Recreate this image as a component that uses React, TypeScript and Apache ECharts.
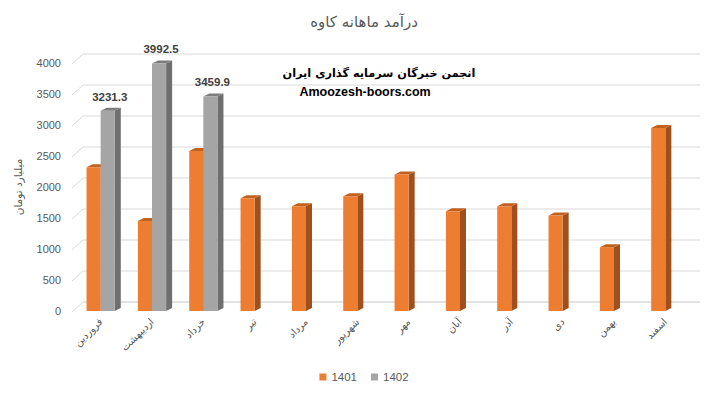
import React, { useEffect, useRef } from "react";
import * as echarts from "echarts";

const months = ["فروردین", "اردیبهشت", "خرداد", "تیر", "مرداد", "شهریور", "مهر", "آبان", "آذر", "دی", "بهمن", "اسفند"];
const income1401 = [2320, 1450, 2580, 1820, 1690, 1850, 2200, 1610, 1690, 1540, 1030, 2950];
const income1402 = [3231.3, 3992.5, 3459.9];
const yTicks = [0, 500, 1000, 1500, 2000, 2500, 3000, 3500, 4000];
const seriesNames = ["1401", "1402"];
const titleText = "درآمد ماهانه کاوه";
const yAxisName = "میلیارد تومان";
const watermark1 = "انجمن خبرگان سرمایه گذاری ایران";
const watermark2 = "Amoozesh-boors.com";

const FA = "'DejaVu Sans', sans-serif";
const LAT = "'Liberation Sans', Arial, sans-serif";

function barRenderer(side: "left" | "right", front: string, sideC: string, topC: string, showLabel: boolean) {
  return (params: any, api: any) => {
    const idx = api.value(0);
    const v = api.value(1);
    const top = api.coord([idx, v]);
    const base = api.coord([idx, 0]);
    const bw = api.size([1, 0])[0];
    const w = bw * 0.275;
    const x0 = side === "left" ? top[0] - w : top[0];
    const x1 = x0 + w;
    const yT = top[1];
    const yB = base[1];
    const dx = 6;
    const dy = 3;
    const children: any[] = [
      {
        type: "polygon",
        shape: { points: [[x1, yT], [x1 + dx, yT - dy], [x1 + dx, yB - dy], [x1, yB]] },
        style: { fill: sideC },
      },
      {
        type: "polygon",
        shape: { points: [[x0, yT], [x0 + dx, yT - dy], [x1 + dx, yT - dy], [x1, yT]] },
        style: { fill: topC },
      },
      {
        type: "rect",
        shape: { x: x0, y: yT, width: w, height: yB - yT },
        style: { fill: front },
      },
    ];
    if (showLabel) {
      children.push({
        type: "text",
        x: x0 + w / 2 + 2,
        y: yT - 14,
        style: {
          text: String(v),
          fill: "#404040",
          font: `bold 11.5px ${LAT}`,
          align: "center",
          verticalAlign: "middle",
        },
      });
    }
    return { type: "group", children };
  };
}

function gridRenderer(params: any, api: any) {
  const v = api.value(1);
  const y = api.coord([0, v])[1];
  const cs = params.coordSys;
  const xf = cs.x - 3;
  const xb = cs.x + 8;
  const xe = cs.x + cs.width + 9;
  const dy = 9;
  const stroke = "#d9d9d9";
  const lw = v === 0 ? 1.6 : 1;
  return {
    type: "group",
    children: [
      { type: "line", shape: { x1: xf, y1: y + 1, x2: xb, y2: y - dy }, style: { stroke, lineWidth: 1 } },
      { type: "line", shape: { x1: xb, y1: y - dy, x2: xe, y2: y - dy }, style: { stroke, lineWidth: lw } },
    ],
  };
}

export default function App() {
  const ref = useRef<HTMLDivElement>(null);
  useEffect(() => {
    if (!ref.current) return;
    const chart = echarts.init(ref.current, null, { renderer: "svg" });
    chart.setOption({
      animation: false,
      backgroundColor: "#ffffff",
      title: {
        text: titleText,
        left: "center",
        top: 9,
        textStyle: { fontFamily: FA, fontSize: 15, fontWeight: "normal", color: "#595959" },
      },
      legend: {
        data: seriesNames,
        bottom: 9,
        left: "center",
        icon: "rect",
        itemWidth: 7,
        itemHeight: 7,
        itemGap: 14,
        textStyle: { fontFamily: LAT, fontSize: 11.5, color: "#595959" },
      },
      grid: { left: 75, right: 37, top: 63, bottom: 86, containLabel: false },
      xAxis: {
        type: "category",
        data: months,
        axisLine: { show: false },
        axisTick: { show: false },
        axisLabel: {
          interval: 0,
          rotate: 45,
          margin: 9,
          fontSize: 10,
          fontFamily: FA,
          color: "#595959",
        },
      },
      yAxis: {
        type: "value",
        min: 0,
        max: 4000,
        interval: 500,
        name: yAxisName,
        nameLocation: "middle",
        nameRotate: 90,
        nameGap: 52,
        nameMoveOverlap: false,
        nameTextStyle: { fontFamily: FA, fontSize: 10.5, color: "#595959" },
        axisLine: { show: false },
        axisTick: { show: false },
        splitLine: { show: false },
        axisLabel: {
          margin: 14,
          fontSize: 11,
          fontFamily: LAT,
          color: "#595959",
          formatter: (v: number) => String(v),
        },
      },
      graphic: [
        {
          type: "text",
          x: 379,
          y: 73,
          style: {
            text: watermark1,
            font: `bold 11.3px ${FA}`,
            fill: "#000000",
            align: "center",
            verticalAlign: "middle",
          },
        },
        {
          type: "text",
          x: 365,
          y: 92,
          style: {
            text: watermark2,
            font: `bold 12.5px ${LAT}`,
            fill: "#000000",
            align: "center",
            verticalAlign: "middle",
          },
        },
      ],
      series: [
        {
          type: "custom",
          name: "grid",
          silent: true,
          z: 1,
          renderItem: gridRenderer,
          data: yTicks.map((v) => [0, v]),
        },
        {
          type: "custom",
          name: seriesNames[0],
          z: 2,
          itemStyle: { color: "#ED7D31" },
          renderItem: barRenderer("left", "#ED7D31", "#A0501C", "#C1611F", false),
          data: income1401.map((v, i) => [i, v]),
        },
        {
          type: "custom",
          name: seriesNames[1],
          z: 3,
          itemStyle: { color: "#A5A5A5" },
          renderItem: barRenderer("right", "#A5A5A5", "#6F6F6F", "#7C7C7C", true),
          data: income1402.map((v, i) => [i, v]),
        },
      ],
    });
    return () => chart.dispose();
  }, []);
  return (
    <div
      ref={ref}
      style={{ position: "fixed", left: 0, top: 0, width: 728, height: 397, background: "#fff" }}
    />
  );
}
